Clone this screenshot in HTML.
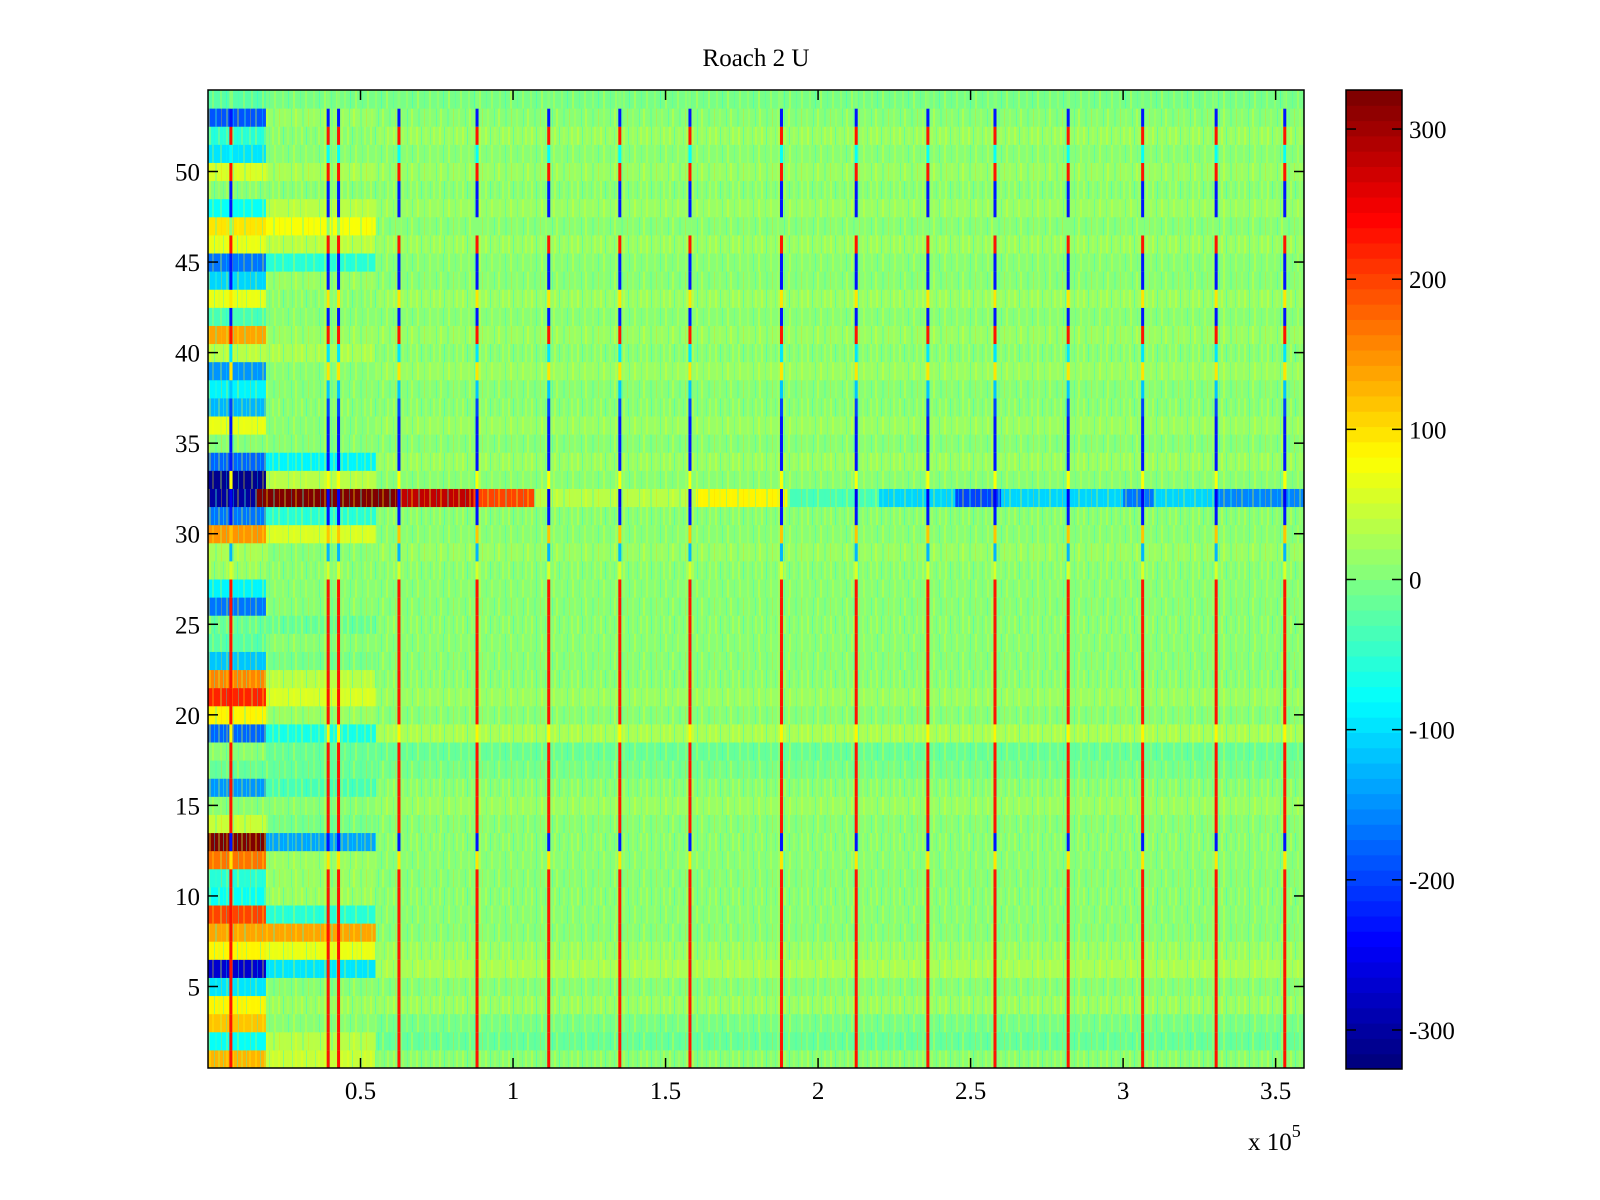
<!DOCTYPE html>
<html><head><meta charset="utf-8"><style>
html,body{margin:0;padding:0;background:#fff;}
svg{display:block;font-family:"Liberation Serif",serif;}
</style></head><body>
<svg id="fig" width="1600" height="1200" viewBox="0 0 1600 1200" xmlns="http://www.w3.org/2000/svg">
<defs>
<clipPath id="plotclip"><rect x="208" y="90" width="1096" height="978"/></clipPath>
<pattern id="tex0" width="23" height="18" patternUnits="userSpaceOnUse">
<rect x="2" y="0" width="2" height="18" fill="#ffff00" opacity="0.3"/><rect x="7" y="0" width="1" height="18" fill="#00ffff" opacity="0.35"/><rect x="11" y="0" width="2" height="18" fill="#c0ff40" opacity="0.35"/><rect x="16" y="0" width="1" height="18" fill="#40ffc0" opacity="0.4"/><rect x="19" y="0" width="2" height="18" fill="#ffff00" opacity="0.25"/></pattern>
<pattern id="tex1" width="29" height="18" patternUnits="userSpaceOnUse">
<rect x="1" y="0" width="1" height="18" fill="#00ffff" opacity="0.3"/><rect x="5" y="0" width="2" height="18" fill="#ffff00" opacity="0.3"/><rect x="12" y="0" width="2" height="18" fill="#40ffc0" opacity="0.35"/><rect x="18" y="0" width="1" height="18" fill="#ffd000" opacity="0.3"/><rect x="23" y="0" width="2" height="18" fill="#c0ff40" opacity="0.35"/></pattern>
<pattern id="tex2" width="31" height="18" patternUnits="userSpaceOnUse">
<rect x="3" y="0" width="2" height="18" fill="#c0ff40" opacity="0.35"/><rect x="9" y="0" width="1" height="18" fill="#00ffff" opacity="0.3"/><rect x="14" y="0" width="2" height="18" fill="#ffff00" opacity="0.3"/><rect x="21" y="0" width="1" height="18" fill="#40ffc0" opacity="0.35"/><rect x="26" y="0" width="2" height="18" fill="#ffff00" opacity="0.25"/></pattern>
</defs>
<text x="756" y="66" font-size="25" text-anchor="middle">Roach 2 U</text>
<g id="cells" clip-path="url(#plotclip)"></g>
<rect x="208" y="90" width="1096" height="978" fill="none" stroke="#000" stroke-width="1.5"/>
<g id="axes"></g>
<g id="cbar"></g>
<text x="1248" y="1150" font-size="25">x 10<tspan dy="-13" font-size="18">5</tspan></text>
</svg>
<script>
const rowCount = 54;
// per-row values, index 0 = row 1
const leftVals = [130,-80,120,90,-100,-270,90,140,200,-80,-60,170,326,50,10,-150,-20,0,-180,90,220,160,-120,-30,-20,-170,-90,20,30,150,-170,-310,-320,-180,0,70,-130,-90,-150,40,140,-40,70,-110,-170,70,100,-80,0,60,-100,-60,-190,-30];
const midVals = [50,40,0,20,0,-100,70,140,-60,20,20,20,-140,-10,0,-40,-20,-20,-70,20,60,40,-10,0,-20,10,10,0,0,60,-60,326,40,-90,0,10,10,0,0,30,20,0,10,20,-60,40,80,40,0,30,10,10,20,-10];
const mainVals = [0,-15,-5,20,0,25,15,0,10,0,10,10,0,10,20,0,-10,-15,30,10,20,10,0,10,10,0,10,10,20,0,10,40,10,20,10,20,10,10,20,10,20,0,20,10,0,20,0,20,10,20,10,20,10,-10];
const stripeVals = [230,230,230,230,230,230,230,230,230,230,230,100,-230,230,230,230,230,230,90,230,230,230,230,230,230,230,230,60,-130,120,-230,-250,80,-230,-230,-230,-200,-120,100,-100,230,-230,100,-230,-230,230,0,-230,-230,230,-80,230,-230,0];
const stripeX = [0.075,0.394,0.428,0.626,0.882,1.117,1.35,1.58,1.88,2.125,2.36,2.58,2.82,3.064,3.305,3.53];
// row 32 special segments (start in 1e5 units, value)
const row32Starts = [0,0.16,0.62,0.87,1.07,1.6,1.9,2.2,2.45,2.6,3.0,3.1,3.3];
const row32Vals = [-310,326,280,200,40,90,-40,-110,-200,-110,-170,-110,-160];
const xTicks = [0.5,1,1.5,2,2.5,3,3.5];
const xTickLabels = ["0.5","1","1.5","2","2.5","3","3.5"];
const yTicks = [5,10,15,20,25,30,35,40,45,50];
const cbTicks = [-300,-200,-100,0,100,200,300];

const NS = "http://www.w3.org/2000/svg";
const PL=208, PR=1304, PT=90, PB=1068, XMAX=3.593, CMAX=326;
const xS = v => PL + v/XMAX*(PR-PL);
const rowH = (PB-PT)/rowCount;
const yS = r => PT + (rowCount + 0.5 - r)*rowH;
function jet(v){
  let t=(v+CMAX)/(2*CMAX); t=Math.max(0,Math.min(1,t)); t=Math.round(t*63)/63;
  const c=x=>Math.round(255*Math.max(0,Math.min(1,x)));
  return `rgb(${c(1.5-Math.abs(4*t-3))},${c(1.5-Math.abs(4*t-2))},${c(1.5-Math.abs(4*t-1))})`;
}
function mk(tag,attrs,parent){const e=document.createElementNS(NS,tag);for(const k in attrs)e.setAttribute(k,attrs[k]);parent.appendChild(e);return e;}
const cells=document.getElementById('cells');
for(let i=0;i<rowCount;i++){
  const r=i+1, y=yS(r)-rowH/2;
  let segs;
  if(r===32){segs=row32Starts.map((s,k)=>[s,k+1<row32Starts.length?row32Starts[k+1]:XMAX,row32Vals[k]]);}
  else segs=[[0,0.19,leftVals[i]],[0.19,0.55,midVals[i]],[0.55,XMAX,mainVals[i]]];
  segs.forEach(s=>{
    const el=mk('rect',{x:xS(s[0]),y:y,width:xS(s[1])-xS(s[0])+0.5,height:rowH+0.5,fill:jet(s[2])},cells);
    
    
  });
  const tx=mk('rect',{x:PL,y:y,width:PR-PL,height:rowH+0.5,fill:`url(#tex${i%3})`},cells);
  
  
  stripeX.forEach(sx=>{
    const el=mk('rect',{x:xS(sx)-1.5,y:y,width:3,height:rowH+0.5,fill:jet(stripeVals[i])},cells);
    
    
  });
}
const axes=document.getElementById('axes');
xTicks.forEach((t,k)=>{
  const x=xS(t);
  mk('line',{x1:x,y1:PB,x2:x,y2:PB-10,stroke:'#000','stroke-width':1.5},axes);
  mk('line',{x1:x,y1:PT,x2:x,y2:PT+10,stroke:'#000','stroke-width':1.5},axes);
  const tl=mk('text',{x:x,y:PB+31,'font-size':25,'text-anchor':'middle'},axes);
  tl.textContent=xTickLabels[k];
  
  
});
yTicks.forEach(t=>{
  const y=yS(t);
  mk('line',{x1:PL,y1:y,x2:PL+10,y2:y,stroke:'#000','stroke-width':1.5},axes);
  mk('line',{x1:PR,y1:y,x2:PR-10,y2:y,stroke:'#000','stroke-width':1.5},axes);
  const tl=mk('text',{x:PL-8,y:y+9,'font-size':25,'text-anchor':'end'},axes);
  tl.textContent=String(t);
  
  
});
const cb=document.getElementById('cbar');
const CL=1346,CR=1402,CT=90,CB=1069;
const cy=v=>CB-(v+CMAX)/(2*CMAX)*(CB-CT);
for(let k=0;k<64;k++){
  const v0=-CMAX+k*(2*CMAX/64), v1=v0+2*CMAX/64;
  const el=mk('rect',{x:CL,y:cy(v1),width:CR-CL,height:cy(v0)-cy(v1)+0.5,fill:jet(v0+CMAX/64)},cb);
  
  
}
mk('rect',{x:CL,y:CT,width:CR-CL,height:CB-CT,fill:'none',stroke:'#000','stroke-width':1.5},cb);
cbTicks.forEach(t=>{
  const y=cy(t);
  mk('line',{x1:CL,y1:y,x2:CL+10,y2:y,stroke:'#000','stroke-width':1.5},cb);
  mk('line',{x1:CR,y1:y,x2:CR-10,y2:y,stroke:'#000','stroke-width':1.5},cb);
  const tl=mk('text',{x:CR+7,y:y+9,'font-size':25},cb);
  tl.textContent=String(t);
  
  
});
</script>
</body></html>
